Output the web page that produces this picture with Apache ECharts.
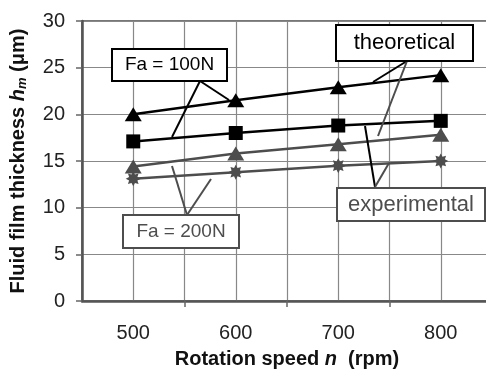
<!DOCTYPE html>
<html>
<head>
<meta charset="utf-8">
<script src="https://cdn.jsdelivr.net/npm/echarts@6/dist/echarts.min.js"></script>
<style>
  html, body { margin: 0; padding: 0; background: #fff; }
  #chart { width: 486px; height: 370px; }
</style>
</head>
<body>
<div id="chart"></div>
<script>
// values
const speeds = [500, 600, 700, 800];
const theo100 = [20.0, 21.5, 22.9, 24.2];
const theo200 = [17.1, 18.0, 18.8, 19.3];
const exp100 = [14.4, 15.8, 16.8, 17.8];
const exp200 = [13.1, 13.8, 14.5, 15.0];
const xLabels = [500, 600, 700, 800];
const xMinorTicks = [550, 650, 750];

const font = 'Liberation Sans, Arial, sans-serif';
const grey = '#4d4d4d';

// excel-like star marker
const starPath = 'path://M100,50 L77.7,61.5 L85.4,85.4 L61.5,77.7 L50,100 L38.5,77.7 L14.6,85.4 L22.3,61.5 L0,50 L22.3,38.5 L14.6,14.6 L38.5,22.3 L50,0 L61.5,22.3 L85.4,14.6 L77.7,38.5 Z';

function pairs(ys) {
  return speeds.map((x, i) => [x, ys[i]]);
}

function leader(x1, y1, x2, y2, color) {
  return {
    type: 'line', z: 50,
    shape: { x1: x1, y1: y1, x2: x2, y2: y2 },
    style: { stroke: color, lineWidth: 2 }
  };
}

function box(x, y, w, h, text, size, color) {
  return [{
    type: 'rect', z: 100,
    shape: { x: x, y: y, width: w, height: h },
    style: { fill: '#fff', stroke: color, lineWidth: 2 }
  }, {
    type: 'text', z: 101,
    x: x + w / 2, y: y + h / 2,
    style: { text: text, font: size + 'px ' + font, fill: color, align: 'center', verticalAlign: 'middle' }
  }];
}

const chart = echarts.init(document.getElementById('chart'));
chart.setOption({
  animation: false,
  grid: {
    left: 82, top: 21, right: -6, bottom: 69, outerBoundsMode: 'none',
    show: true, borderColor: '#777', borderWidth: 2
  },
  xAxis: [{
    type: 'value', min: 450, max: 850, interval: 50,
    name: '{t|Rotation speed }{i|n}{t|  (rpm)}',
    nameLocation: 'middle', nameGap: 48,
    nameTextStyle: {
      rich: {
        t: { fontFamily: font, fontWeight: 'bold', fontSize: 20, color: '#111' },
        i: { fontFamily: font, fontWeight: 'bold', fontStyle: 'italic', fontSize: 20, color: '#111' }
      }
    },
    axisLine: { show: true, lineStyle: { color: '#555', width: 2.5 } },
    axisTick: { show: false },
    axisLabel: {
      margin: 22, fontFamily: font, fontSize: 20, color: '#222',
      formatter: v => xLabels.indexOf(v) >= 0 ? String(v) : ''
    },
    splitLine: { show: true, lineStyle: { color: '#888', width: 1.2 } }
  }, {
    type: 'value', min: 450, max: 850, position: 'bottom',
    axisLine: { show: false },
    axisLabel: { show: false },
    splitLine: { show: false },
    axisTick: { show: true, customValues: xMinorTicks, length: 6, lineStyle: { color: '#666', width: 1.5 } }
  }],
  yAxis: {
    type: 'value', min: 0, max: 30, interval: 5,
    name: '{t|Fluid film thickness }{i|h}{s|m}{t| (μm)}',
    nameLocation: 'middle', nameGap: 53,
    nameTextStyle: {
      rich: {
        t: { fontFamily: font, fontWeight: 'bold', fontSize: 20, color: '#111', lineHeight: 22 },
        i: { fontFamily: font, fontWeight: 'bold', fontStyle: 'italic', fontSize: 20, color: '#111', lineHeight: 22 },
        s: { fontFamily: font, fontWeight: 'bold', fontStyle: 'italic', fontSize: 13, color: '#111', lineHeight: 22, verticalAlign: 'bottom', padding: [8, 0, 0, 0] }
      }
    },
    axisLine: { show: true, lineStyle: { color: '#555', width: 2.5 } },
    axisTick: { show: true, length: 6, lineStyle: { color: '#666', width: 1.5 } },
    axisLabel: { margin: 17, fontFamily: font, fontSize: 20, color: '#222' },
    splitLine: { show: true, lineStyle: { color: '#888', width: 1.2 } }
  },
  series: [{
    name: 'exp 200N', type: 'line', data: pairs(exp200),
    symbol: starPath, symbolSize: 15,
    lineStyle: { color: grey, width: 2.5 }, itemStyle: { color: grey }
  }, {
    name: 'exp 100N', type: 'line', data: pairs(exp100),
    symbol: 'triangle', symbolSize: [17, 14],
    lineStyle: { color: grey, width: 2.5 }, itemStyle: { color: grey }
  }, {
    name: 'theo 200N', type: 'line', data: pairs(theo200),
    symbol: 'rect', symbolSize: 14,
    lineStyle: { color: '#000', width: 2.5 }, itemStyle: { color: '#000' }
  }, {
    name: 'theo 100N', type: 'line', data: pairs(theo100),
    symbol: 'triangle', symbolSize: [17, 14],
    lineStyle: { color: '#000', width: 2.5 }, itemStyle: { color: '#000' }
  }],
  graphic: [
    leader(200, 81, 229, 100, '#000'),
    leader(200, 81, 172, 137, '#000'),
    leader(407, 61, 373, 82, '#000'),
    leader(407, 61, 378, 136, grey),
    leader(365, 126, 375, 187, '#000'),
    leader(375, 187, 389, 163, grey),
    leader(187, 215, 172, 166, grey),
    leader(187, 215, 211, 179, grey)
  ].concat(
    box(112, 49, 115, 32, 'Fa = 100N', 19, '#000'),
    box(336, 25, 137, 36, 'theoretical', 22, '#000'),
    box(337, 188, 148, 33, 'experimental', 22, grey),
    box(123, 215, 116, 33, 'Fa = 200N', 19, grey)
  )
});
</script>
</body>
</html>
